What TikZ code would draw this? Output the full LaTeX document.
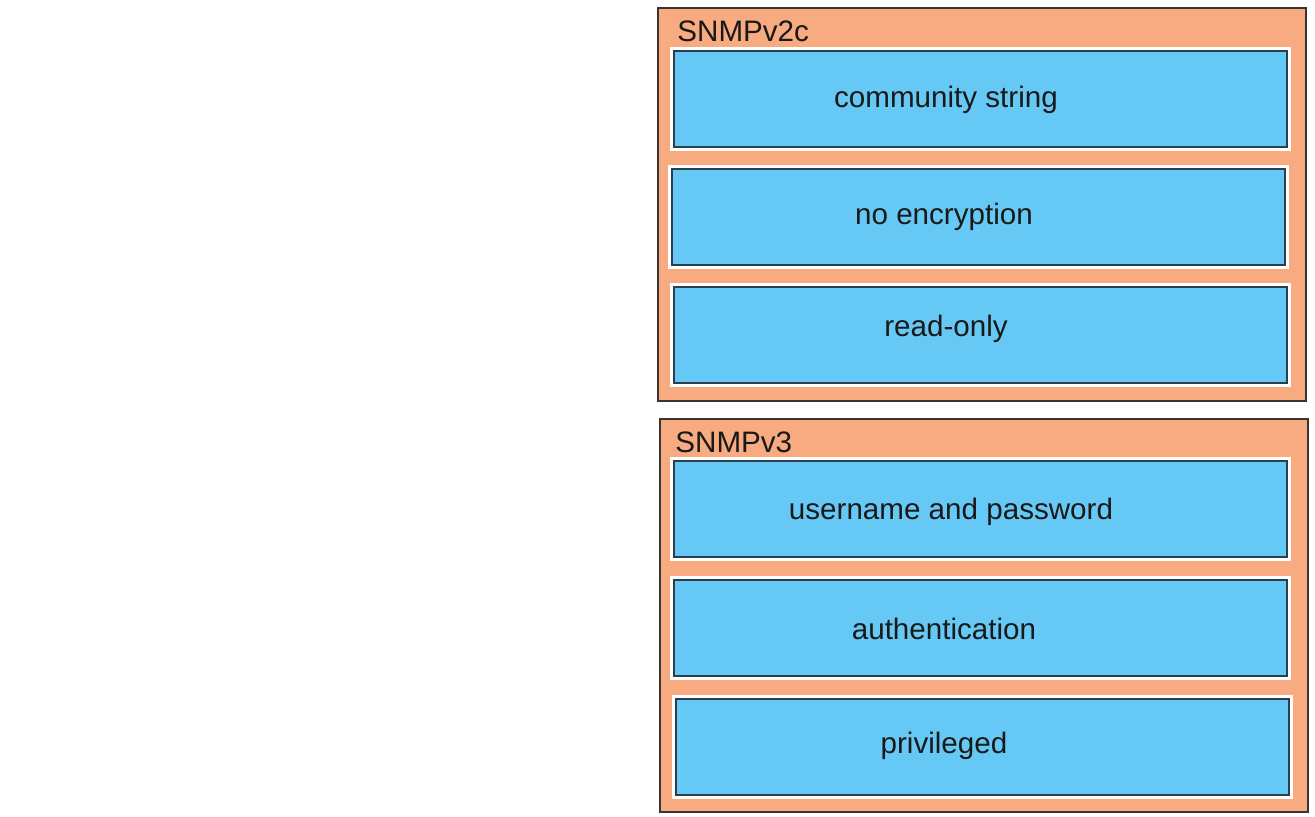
\documentclass[tikz,border=0pt]{standalone}
\usepackage{fontspec}
\setmainfont{Liberation Sans}
\definecolor{groupfill}{HTML}{F8AA80}
\definecolor{itemfill}{HTML}{66C9F5}
\definecolor{edgeline}{HTML}{3A3430}
\definecolor{itemline}{HTML}{2C3E4C}
\tikzset{
	group/.style={draw=edgeline, line width=1pt, fill=groupfill, anchor=north west, inner sep=0pt},
	item/.style={draw=itemline, line width=1pt, fill=itemfill, preaction={draw=white, line width=4pt},
		anchor=north west, minimum width=306.5pt, minimum height=48pt, inner sep=0pt},
	itemtext/.style={font=\fontsize{14.8}{16}\selectfont, text=black!90},
	grouptext/.style={font=\fontsize{14.8}{16}\selectfont, text=black!90, anchor=west, inner sep=0pt}
}
\begin{document}
\begin{tikzpicture}[x=0.5pt, y=-0.5pt]
	\useasboundingbox (0,0) rectangle (1315,817);

	\node[group, minimum width=324pt, minimum height=196.5pt] (v2) at (657,7) {};
	\node[grouptext] (v2t) at (677,31) {SNMPv2c};
	\node[item] (comm) at (673,50) {};
	\node[item] (enc) at (671,168) {};
	\node[item] (ro) at (673,286) {};
	\node[itemtext] at (946,100) {community string};
	\node[itemtext] at (944,217) {no encryption};
	\node[itemtext] at (946,329) {read-only};

	\node[group, minimum width=324pt, minimum height=196.5pt] (v3) at (659,418) {};
	\node[grouptext] (v3t) at (675,442) {SNMPv3};
	\node[item] (user) at (673,460) {};
	\node[item] (auth) at (673,579) {};
	\node[item] (priv) at (675,698) {};
	\node[itemtext] at (951,512) {username and password};
	\node[itemtext] at (944,629) {authentication};
	\node[itemtext] at (944,746) {privileged};
\end{tikzpicture}
\end{document}
